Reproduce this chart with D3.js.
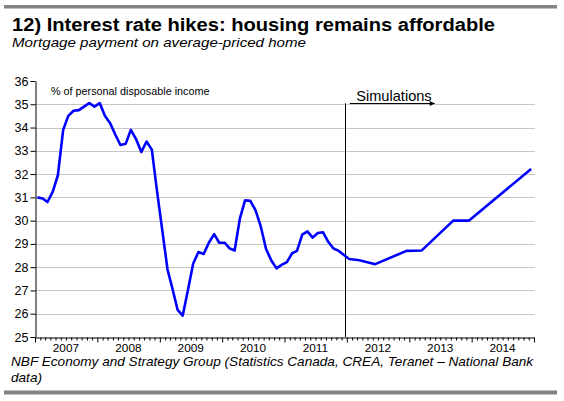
<!DOCTYPE html>
<html>
<head>
<meta charset="utf-8">
<script src="https://cdn.jsdelivr.net/npm/d3@7/dist/d3.min.js"></script>
<style>
  html, body { margin: 0; padding: 0; background: #fff; }
  svg { display: block; font-family: "Liberation Sans", Arial, sans-serif; }
</style>
</head>
<body>
<svg id="chart" width="564" height="401"></svg>
<script>
// ---- Data ----
const histStart = "2007-01";           // first month of history (monthly)
const histValues = [
  31.0, 30.95, 30.8, 31.25, 31.95, 33.9, 34.5, 34.72, 34.75, 34.9, 35.05, 34.9,   // 2007
  35.05, 34.5, 34.2, 33.7, 33.25, 33.3, 33.9, 33.5, 32.95, 33.4, 33.05, 31.3,     // 2008
  29.6, 27.9, 27.1, 26.17, 25.92, 27.03, 28.15, 28.65, 28.57, 29.05, 29.42, 29.05, // 2009
  29.05, 28.8, 28.72, 30.1, 30.87, 30.85, 30.45, 29.75, 28.78, 28.3, 27.95, 28.1,  // 2010
  28.22, 28.6, 28.7, 29.4, 29.54, 29.27, 29.47, 29.5, 29.08, 28.8, 28.7, 28.52,    // 2011
  28.35                                                                            // 2012-01
];
const simMonths = ["2012-03", "2012-06", "2012-12", "2013-03", "2013-09", "2013-12", "2014-12"];
const simValues = [28.3, 28.13, 28.7, 28.72, 30.0, 30.0, 32.22];
const yearLabels = ["2007", "2008", "2009", "2010", "2011", "2012", "2013", "2014"];
const yTicks = [25, 26, 27, 28, 29, 30, 31, 32, 33, 34, 35, 36];
const simDividerDate = "2011-12-22";
const simArrowFrom = "2012-01-18";
const simArrowTo = "2013-05-30";

const titleText = "12) Interest rate hikes: housing remains affordable";
const subtitleText = "Mortgage payment on average-priced home";
const unitText = "% of personal disposable income";
const simText = "Simulations";
const sourceLines = [
  "NBF Economy and Strategy Group (Statistics Canada, CREA, Teranet \u2013 National Bank",
  "data)"
];

// ---- Build series ----
const parseM = d3.timeParse("%Y-%m");
const midMonth = d => { const t = parseM(d); return new Date(t.getFullYear(), t.getMonth(), 15); };
const h0 = parseM(histStart);
const series = histValues.map((v, i) => ({ date: new Date(h0.getFullYear(), h0.getMonth() + i, 15), value: v }))
  .concat(simMonths.map((m, i) => ({ date: midMonth(m), value: simValues[i] })));

// ---- Layout ----
const svg = d3.select("#chart");
const plotL = 35, plotR = 534, plotT = 81, plotB = 337;

const x = d3.scaleTime()
  .domain([new Date(2007, 0, 1), new Date(2015, 0, 1)])
  .range([plotL, plotR]);
const y = d3.scaleLinear().domain([25, 36]).range([plotB, plotT]);

// frame bars
svg.append("rect").attr("x", 4).attr("y", 5).attr("width", 553).attr("height", 3.5).attr("fill", "#828282");
svg.append("rect").attr("x", 4).attr("y", 390.5).attr("width", 553).attr("height", 4).attr("fill", "#828282");

// titles
svg.append("text").attr("x", 12).attr("y", 30.5)
  .attr("font-size", 18).attr("font-weight", "bold").attr("fill", "#000")
  .attr("textLength", 483).attr("lengthAdjust", "spacingAndGlyphs").text(titleText);
svg.append("text").attr("x", 12).attr("y", 46.5)
  .attr("font-size", 13.2).attr("font-style", "italic").attr("fill", "#000")
  .attr("textLength", 294).attr("lengthAdjust", "spacingAndGlyphs").text(subtitleText);

// gridlines
svg.append("g").selectAll("line")
  .data(yTicks.filter(t => t > 25 && t < 36))
  .join("line")
  .attr("x1", plotL).attr("x2", plotR + 1)
  .attr("y1", d => Math.round(y(d)) + 0.5).attr("y2", d => Math.round(y(d)) + 0.5)
  .attr("stroke", "#c6c6c6").attr("stroke-width", 1);

// y axis
const yAxis = svg.append("g").attr("transform", `translate(${plotL + 0.5},0)`)
  .call(d3.axisLeft(y).tickValues(yTicks).tickSize(5).tickSizeOuter(0).tickPadding(2));
yAxis.selectAll("text").attr("font-size", 12.5).attr("fill", "#000")
  .attr("font-family", "'Liberation Sans', Arial, sans-serif");
yAxis.selectAll("line, path").attr("stroke", "#000");

// x axis: monthly ticks, labels centered in year
const xAxis = svg.append("g").attr("transform", `translate(0,${plotB + 0.5})`)
  .call(d3.axisBottom(x).ticks(d3.timeMonth.every(1)).tickSize(3).tickSizeOuter(0).tickFormat(""));
xAxis.selectAll("line, path").attr("stroke", "#000");
xAxis.selectAll(".tick line").attr("y2", d => d.getMonth() === 0 ? 5 : 3);
svg.append("g").selectAll("text")
  .data(yearLabels)
  .join("text")
  .attr("x", d => x(new Date(+d, 6, 1)))
  .attr("y", plotB + 15)
  .attr("text-anchor", "middle")
  .attr("font-size", 11.8).attr("fill", "#000")
  .text(d => d);

// unit label
svg.append("text").attr("x", 51).attr("y", 95)
  .attr("font-size", 10.8).attr("fill", "#000").text(unitText);

// simulation divider
const divX = Math.round(x(new Date(simDividerDate))) + 0.5;
svg.append("line")
  .attr("x1", divX).attr("x2", divX)
  .attr("y1", y(35.04)).attr("y2", plotB)
  .attr("stroke", "#000").attr("stroke-width", 1);

// arrow
svg.append("defs").append("marker")
  .attr("id", "arrow").attr("viewBox", "0 0 10 10").attr("refX", 10).attr("refY", 5)
  .attr("markerWidth", 7).attr("markerHeight", 5).attr("markerUnits", "userSpaceOnUse")
  .attr("orient", "auto")
  .append("path").attr("d", "M0,0 L10,5 L0,10 z").attr("fill", "#000");
const arrowY = Math.round(y(35.04)) + 0.5;
svg.append("line")
  .attr("x1", x(new Date(simArrowFrom))).attr("x2", x(new Date(simArrowTo)))
  .attr("y1", arrowY).attr("y2", arrowY)
  .attr("stroke", "#000").attr("stroke-width", 1)
  .attr("marker-end", "url(#arrow)");
svg.append("text")
  .attr("x", x(new Date(simArrowFrom)) + 6.5).attr("y", 101)
  .attr("font-size", 14.6).attr("fill", "#000").text(simText);

// data line
svg.append("path")
  .datum(series)
  .attr("fill", "none").attr("stroke", "#0000ff").attr("stroke-width", 2.6)
  .attr("stroke-linejoin", "round")
  .attr("d", d3.line().x(d => x(d.date)).y(d => y(d.value)));

// source
svg.append("g").selectAll("text")
  .data(sourceLines)
  .join("text")
  .attr("x", 11).attr("y", (d, i) => 366 + i * 16)
  .attr("font-size", 13.6).attr("font-style", "italic").attr("fill", "#000")
  .text(d => d);
</script>
</body>
</html>
